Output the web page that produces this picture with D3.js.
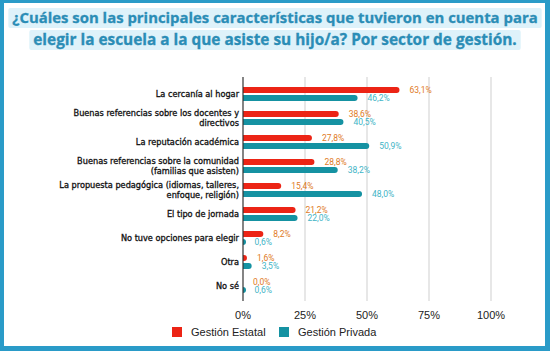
<!DOCTYPE html>
<html>
<head>
<meta charset="utf-8">
<script src="https://cdn.jsdelivr.net/npm/d3@7"></script>
<style>
  body { margin: 0; background: #fff; }
  svg { display: block; }
</style>
</head>
<body>
<div id="chart"></div>
<script>
var categories = [
  ["La cercanía al hogar"],
  ["Buenas referencias sobre los docentes y", "directivos"],
  ["La reputación académica"],
  ["Buenas referencias sobre la comunidad", "(familias que asisten)"],
  ["La propuesta pedagógica (idiomas, talleres,", "enfoque, religión)"],
  ["El tipo de jornada"],
  ["No tuve opciones para elegir"],
  ["Otra"],
  ["No sé"]
]
var estatal = [63.1, 38.6, 27.8, 28.8, 15.4, 21.2, 8.2, 1.6, 0.0]
var privada = [46.2, 40.5, 50.9, 38.2, 48.0, 22.0, 0.6, 3.5, 0.6]
var ticks = [0, 25, 50, 75, 100]
var seriesNames = ["Gestión Estatal", "Gestión Privada"]
var titleLines = [
  "¿Cuáles son las principales características que tuvieron en cuenta para",
  "elegir la escuela a la que asiste su hijo/a? Por sector de gestión."
]

var width = 550, height = 351
var red = "#ec2415", teal = "#1592a2"
var redLbl = "#e07a25", tealLbl = "#3fb4c6"

var es = d3.formatLocale({decimal: ",", thousands: ".", grouping: [3], currency: ["", ""]})
var fmt = es.format(".1f")

var svg = d3.select('#chart').append('svg').attr('width', width).attr('height', height)

// frame
svg.append('rect').attr('width', width).attr('height', height).attr('fill', '#2a9bc8')
svg.append('rect').attr('x', 4).attr('y', 3).attr('width', 541).attr('height', 343).attr('fill', '#fff')

// title with highlight
var titleY = [23, 45]
var titleW = [526, 484]
titleLines.forEach(function(t, i){
  var bg = svg.append('rect').attr('fill', '#def2fa')
  var txt = svg.append('text')
    .attr('x', 275).attr('y', titleY[i])
    .attr('text-anchor', 'middle')
    .style('font-family', 'Open Sans')
    .style('font-weight', 700)
    .style('font-size', '15px')
    .attr('fill', '#2b8db6')
    .attr('stroke', '#2b8db6').attr('stroke-width', 0.3)
    .text(t)
  var len = txt.node().getComputedTextLength()
  txt.style('font-size', (15 * titleW[i] / len) + 'px')
  var bb = txt.node().getBBox()
  bg.attr('x', bb.x - 4).attr('y', titleY[i] - 15).attr('width', bb.width + 8).attr('height', 20).attr('rx', 2)
})

var x = d3.scaleLinear().domain([0, 100]).range([243, 491])
var y = d3.scaleBand().domain(d3.range(categories.length)).range([82, 298])
var barH = 6, gap = 2

// gridlines
svg.append('g').selectAll('line').data(ticks.slice(1)).enter().append('line')
  .attr('x1', function(d){ return x(d) }).attr('x2', function(d){ return x(d) })
  .attr('y1', 77).attr('y2', 301)
  .attr('stroke', '#cfcfcf').attr('stroke-width', 1)

// tick labels
svg.append('g').selectAll('text').data(ticks).enter().append('text')
  .attr('x', function(d){ return x(d) }).attr('y', 319)
  .attr('text-anchor', 'middle')
  .style('font-family', 'Liberation Sans, Arial, sans-serif').style('font-size', '11px')
  .attr('fill', '#222')
  .text(function(d){ return d + '%' })

function barPath(x0, x1, y0, h){
  var w = x1 - x0
  if (w <= 0) return ''
  var r = Math.min(h / 2, w)
  return 'M' + x0 + ',' + y0 + 'H' + (x1 - r) +
    'A' + r + ',' + r + ' 0 0 1 ' + (x1 - r) + ',' + (y0 + h) +
    'H' + x0 + 'Z'
}

var series = [
  {vals: estatal, color: red, lbl: redLbl, off: -gap / 2 - barH, nudge: -0.3},
  {vals: privada, color: teal, lbl: tealLbl, off: gap / 2, nudge: 0.3}
]

series.forEach(function(s){
  var g = svg.append('g')
  g.selectAll('path').data(s.vals).enter().append('path')
    .attr('d', function(d, i){
      var c = y(i) + y.bandwidth() / 2
      return barPath(x(0), x(d), c + s.off, barH)
    })
    .attr('fill', s.color)
  g.selectAll('text').data(s.vals).enter().append('text')
    .attr('x', function(d){ return x(d) + 10 })
    .attr('y', function(d, i){ return y(i) + y.bandwidth() / 2 + s.off + barH / 2 + 3 + s.nudge })
    .style('font-family', 'Roboto, sans-serif').style('font-size', '8.5px')
    .attr('fill', s.lbl)
    .text(function(d){ return fmt(d) + '%' })
})

// zero axis
svg.append('line').attr('x1', x(0)).attr('x2', x(0)).attr('y1', 77).attr('y2', 301)
  .attr('stroke', '#333').attr('stroke-width', 1.2)

// category labels
var catG = svg.append('g')
categories.forEach(function(lines, i){
  var c = y(i) + y.bandwidth() / 2
  lines.forEach(function(l, j){
    var ly = c + 3 + (j - (lines.length - 1) / 2) * 10
    catG.append('text')
      .attr('x', 239).attr('y', ly)
      .attr('text-anchor', 'end')
      .style('font-family', 'DejaVu Sans, sans-serif').style('font-size', '8px')
      .attr('fill', '#111')
      .attr('stroke', '#111').attr('stroke-width', 0.3)
      .text(l)
  })
})
// fit the longest label line to the width seen in the reference
var longest = d3.max(catG.selectAll('text').nodes(), function(n){ return n.getComputedTextLength() })
catG.selectAll('text').style('font-size', (8 * 180 / longest) + 'px')

// legend
var legX = [172, 279]
seriesNames.forEach(function(n, i){
  svg.append('rect').attr('x', legX[i]).attr('y', 327).attr('width', 10).attr('height', 10)
    .attr('fill', i == 0 ? red : teal)
  svg.append('text').attr('x', legX[i] + 19).attr('y', 336)
    .style('font-family', 'Liberation Sans, Arial, sans-serif').style('font-size', '11px')
    .attr('fill', '#222')
    .text(n)
})
</script>
</body>
</html>
